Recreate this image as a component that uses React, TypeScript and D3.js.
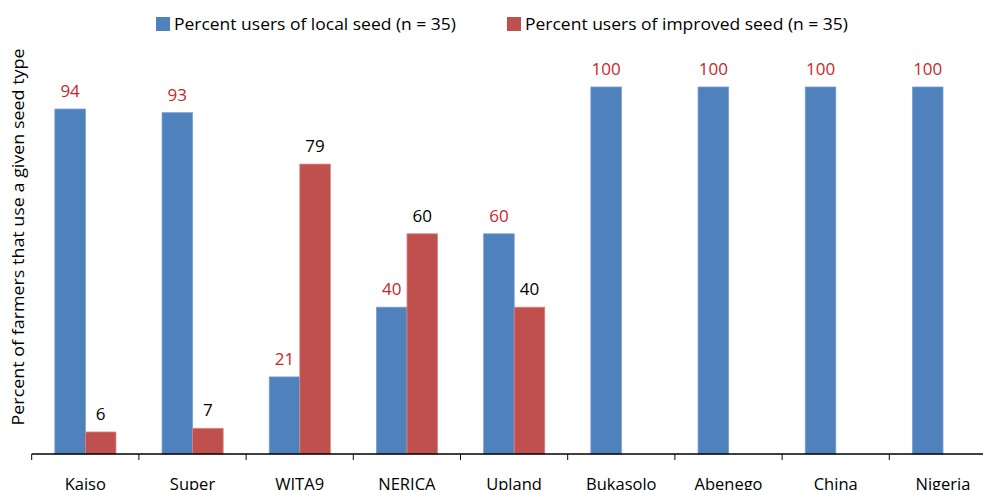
import React from "react";
import * as d3 from "d3";

// Seed varieties and the share of farmers using each seed type
const categories = ["Kaiso", "Super", "WITA9", "NERICA", "Upland", "Bukasolo", "Abenego", "China", "Nigeria"];
const localSeed = [94, 93, 21, 40, 60, 100, 100, 100, 100];
const improvedSeed: (number | null)[] = [6, 7, 79, 60, 40, null, null, null, null];
const seriesNames = ["Percent users of local seed (n = 35)", "Percent users of improved seed (n = 35)"];
const yTitle = "Percent of farmers  that  use a  given seed type";

const W = 983;
const H = 490;
const FONT = "'Open Sans', 'Noto Sans', sans-serif";
const BLUE = "#4F81BD";
const RED = "#C0504D";
const LABEL_RED = "#C8262E";

export default function App() {
  const x0 = 31.7;
  const bandW = 107.2;
  const x = d3.scaleBand<string>().domain(categories).range([x0, x0 + bandW * categories.length]).padding(0);
  const bw = x.bandwidth();
  const inner = d3
    .scaleBand<string>()
    .domain(["local", "improved"])
    .range([bw * 0.216, bw * 0.216 + bw * 0.57])
    .padding(0);
  const y = d3.scaleLinear().domain([0, 100]).range([454, 87]);

  const rows = categories.map((c, i) => ({ c, local: localSeed[i], improved: improvedSeed[i] }));
  const ticks = d3.range(categories.length + 1).map((i) => x0 + i * bw);

  return (
    <svg width={W} height={H} style={{ position: "absolute", left: 0, top: 0, background: "#fff" }} fontFamily={FONT}>
      {/* legend */}
      <rect x={156} y={17} width={14} height={14} fill={BLUE} />
      <text x={174} y={30} fontSize={16.5} fill="#000" textLength={282} lengthAdjust="spacingAndGlyphs">
        {seriesNames[0]}
      </text>
      <rect x={507} y={17} width={14} height={14} fill={RED} />
      <text x={525} y={30} fontSize={16.5} fill="#000" textLength={323} lengthAdjust="spacingAndGlyphs">
        {seriesNames[1]}
      </text>

      {/* y axis title */}
      <text
        transform="translate(24,237) rotate(-90)"
        textAnchor="middle"
        fontSize={16}
        fill="#000"
        textLength={377}
        lengthAdjust="spacingAndGlyphs"
      >
        {yTitle}
      </text>

      {/* bars */}
      {rows.map((r) => {
        const bx = x(r.c)!;
        const lx = bx + inner("local")!;
        const ix = bx + inner("improved")!;
        const iw = inner.bandwidth();
        return (
          <g key={r.c}>
            <rect x={lx} y={y(r.local)} width={iw} height={y(0) - y(r.local)} fill={BLUE} stroke="#7A9FD0" strokeWidth={0.8} />
            <text x={lx + iw / 2} y={y(r.local) - 12} textAnchor="middle" fontSize={17} fill={LABEL_RED}>
              {r.local}
            </text>
            {r.improved != null && (
              <>
                <rect
                  x={ix}
                  y={y(r.improved)}
                  width={iw}
                  height={y(0) - y(r.improved)}
                  fill={RED}
                  stroke="#D98582"
                  strokeWidth={0.8}
                />
                <text x={ix + iw / 2} y={y(r.improved) - 12} textAnchor="middle" fontSize={17} fill="#000">
                  {r.improved}
                </text>
              </>
            )}
          </g>
        );
      })}

      {/* x axis */}
      <line x1={x0} x2={W} y1={454} y2={454} stroke="#000" strokeWidth={1.5} />
      {ticks.map((t, i) => (
        <line key={i} x1={t} x2={t} y1={454} y2={460} stroke="#000" strokeWidth={1} />
      ))}
      {categories.map((c) => (
        <text key={c} x={x(c)! + bw / 2} y={490} textAnchor="middle" fontSize={16.5} fill="#000">
          {c}
        </text>
      ))}
    </svg>
  );
}
